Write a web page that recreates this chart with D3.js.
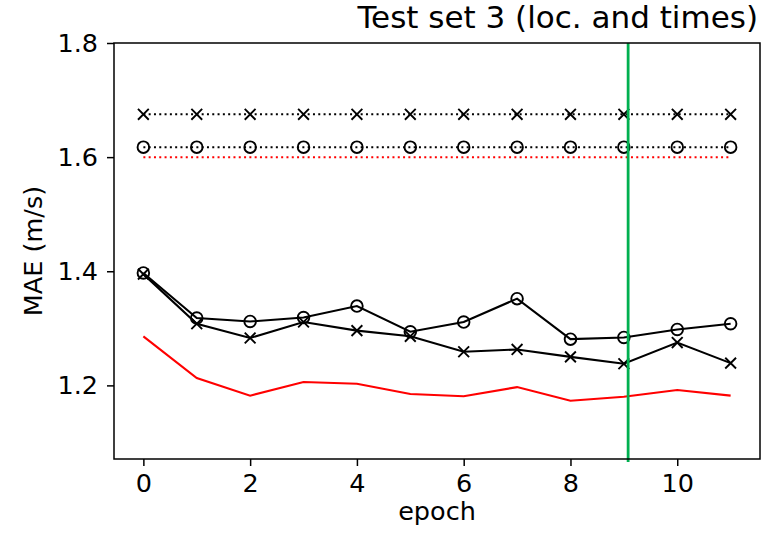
<!DOCTYPE html>
<html>
<head>
<meta charset="utf-8">
<script src="https://cdn.jsdelivr.net/npm/d3@7"></script>
<style>
  html, body { margin: 0; padding: 0; background: #fff; }
  svg { display: block; }
  text { font-family: "DejaVu Sans", sans-serif; fill: #000; }
</style>
</head>
<body>
<svg id="chart" width="770" height="540"></svg>
<script>
// Validation MAE per epoch, test set 3
const epochs = [0, 1, 2, 3, 4, 5, 6, 7, 8, 9, 10, 11];
const circleSeries = [1.397, 1.318, 1.312, 1.319, 1.339, 1.294, 1.311, 1.352, 1.281, 1.284, 1.298, 1.308];
const crossSeries  = [1.395, 1.308, 1.283, 1.311, 1.296, 1.286, 1.259, 1.263, 1.250, 1.238, 1.275, 1.239];
const redSeries    = [1.286, 1.213, 1.182, 1.206, 1.203, 1.185, 1.181, 1.197, 1.173, 1.180, 1.192, 1.182];
// Constant baselines
const crossBaseline  = 1.675;
const circleBaseline = 1.6175;
const redBaseline    = 1.600;
// Selected epoch marker
const selectedEpoch = 9.08;
const xTicks = [0, 2, 4, 6, 8, 10];
const yTicks = [1.2, 1.4, 1.6, 1.8];

const svg = d3.select("#chart");
const mLeft = 114, mRight = 760, mTop = 43, mBottom = 459;

const x = d3.scaleLinear().domain([-0.55, 11.55]).range([mLeft, mRight]);
const y = d3.scaleLinear().domain([1.071, 1.8]).range([mBottom, mTop]);

const line = d3.line().x((d, i) => x(epochs[i])).y(d => y(d));
const flat = v => epochs.map(() => v);

const plot = svg.append("g");

function drawLine(values, color, width, dash) {
  plot.append("path")
    .datum(values)
    .attr("fill", "none")
    .attr("stroke", color)
    .attr("stroke-width", width)
    .attr("stroke-dasharray", dash || null)
    .attr("d", line);
}

function drawCircles(values) {
  plot.append("g").selectAll("circle").data(values).join("circle")
    .attr("cx", (d, i) => x(epochs[i]))
    .attr("cy", d => y(d))
    .attr("r", 5.8)
    .attr("fill", "none")
    .attr("stroke", "#000")
    .attr("stroke-width", 1.9);
}

function drawCrosses(values) {
  const s = 5.4;
  plot.append("g").selectAll("path").data(values).join("path")
    .attr("transform", (d, i) => `translate(${x(epochs[i])},${y(d)})`)
    .attr("d", `M${-s},${-s}L${s},${s}M${-s},${s}L${s},${-s}`)
    .attr("fill", "none")
    .attr("stroke", "#000")
    .attr("stroke-width", 1.9);
}

// dotted baselines
drawLine(flat(crossBaseline), "#000", 2, "2,3.3");
drawCrosses(flat(crossBaseline));
drawLine(flat(circleBaseline), "#000", 2, "2,3.3");
drawCircles(flat(circleBaseline));
drawLine(flat(redBaseline), "#ff0000", 2, "2,3.3");

// per-epoch curves
drawLine(circleSeries, "#000", 2.1);
drawCircles(circleSeries);
drawLine(crossSeries, "#000", 2.1);
drawCrosses(crossSeries);
drawLine(redSeries, "#ff0000", 2.1);

// selected epoch
plot.append("line")
  .attr("x1", x(selectedEpoch)).attr("x2", x(selectedEpoch))
  .attr("y1", y.range()[1]).attr("y2", y.range()[0] + 3)
  .attr("stroke", "#00b050")
  .attr("stroke-width", 2.8);

// axes
const xAxis = svg.append("g")
  .attr("transform", `translate(0,${mBottom})`)
  .call(d3.axisBottom(x).tickValues(xTicks).tickFormat(d3.format("d")).tickSize(7).tickPadding(8));
const yAxis = svg.append("g")
  .attr("transform", `translate(${mLeft},0)`)
  .call(d3.axisLeft(y).tickValues(yTicks).tickFormat(d3.format(".1f")).tickSize(7).tickPadding(9));

[xAxis, yAxis].forEach(g => {
  g.select(".domain").remove();
  g.selectAll(".tick line").attr("stroke", "#000").attr("stroke-width", 1.5);
  g.selectAll(".tick text")
    .style("font-family", "'DejaVu Sans', sans-serif")
    .style("font-size", "25.5px")
    .attr("fill", "#000");
});

// frame
svg.append("rect")
  .attr("x", mLeft).attr("y", mTop)
  .attr("width", mRight - mLeft).attr("height", mBottom - mTop)
  .attr("fill", "none").attr("stroke", "#000").attr("stroke-width", 1.5);

// labels
svg.append("text")
  .attr("x", (mLeft + mRight) / 2).attr("y", 520)
  .attr("text-anchor", "middle")
  .style("font-size", "25.5px")
  .text("epoch");

svg.append("text")
  .attr("transform", `translate(42,${(mTop + mBottom) / 2}) rotate(-90)`)
  .attr("text-anchor", "middle")
  .style("font-size", "25.5px")
  .text("MAE (m/s)");

svg.append("text")
  .attr("x", mRight - 2).attr("y", 28)
  .attr("text-anchor", "end")
  .style("font-size", "31px")
  .text("Test set 3 (loc. and times)");
</script>
</body>
</html>
